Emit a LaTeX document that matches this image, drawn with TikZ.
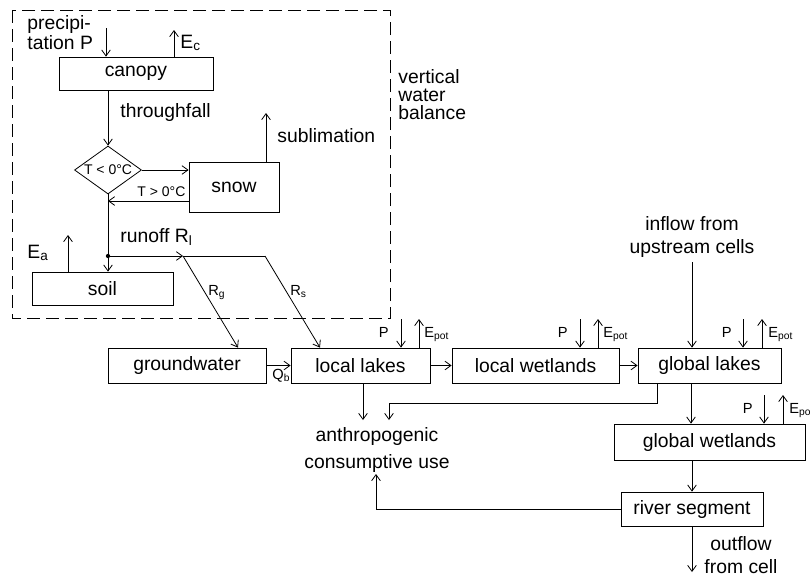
\documentclass[tikz,border=0pt]{standalone}
\usepackage{fontspec}
\setmainfont{Liberation Sans}
\usetikzlibrary{arrows.meta,shapes.geometric}

\tikzset{
  box/.style={draw, inner sep=0pt, font=\fontsize{14.5}{16}\selectfont},
  lbl/.style={inner sep=0pt, font=\fontsize{14.5}{15}\selectfont},
  sml/.style={inner sep=0pt, font=\fontsize{11}{12}\selectfont},
  flow/.style={-{Straight Barb[length=4.5pt,width=6.5pt]}},
}

\begin{document}
\begin{tikzpicture}[x=0.75pt,y=-0.75pt,line width=0.6pt]
\useasboundingbox (0,0) rectangle (810,576);
% vertical water balance
\draw[dash pattern=on 9.75pt off 4.5pt] (12,10) rectangle (390,318);
\node[box, minimum width=115.5pt, minimum height=24.75pt] (canopy) at (136,73.5) {canopy};
\node[box, diamond, aspect=1.4, minimum width=50.25pt, minimum height=36pt, font=\fontsize{10.5}{11}\selectfont] (frost) at (108,170) {T < 0°C};
\node[box, minimum width=67.5pt, minimum height=37.5pt] (snow) at (234,187) {snow};
\node[box, minimum width=105.75pt, minimum height=24.75pt] (soil) at (102.5,288.5) {soil};
\node[lbl, anchor=west, align=left] (precip) at (27,33) {precipi-\\tation P};
\node[lbl, anchor=base west] (eclbl) at (180,48) {E\textsubscript{c}};
\node[lbl, anchor=base west] (thrlbl) at (120,117) {throughfall};
\node[lbl, anchor=base west] (sublbl) at (277,142) {sublimation};
\node[sml, anchor=base west, font=\fontsize{10.5}{11}\selectfont] (meltlbl) at (137,196) {T > 0°C};
\node[lbl, anchor=base west] (runlbl) at (120,242) {runoff R\textsubscript{l}};
\node[lbl, anchor=base west] (ealbl) at (27,258) {E\textsubscript{a}};
\node[lbl, anchor=west, align=left, font=\fontsize{14.5}{13.5}\selectfont] (vwb) at (398,95) {vertical\\water\\balance};
\coordinate (pin) at (106,28);
\coordinate (ecout) at (174,30);
\coordinate (subl) at (266,113);
\coordinate (eaout) at (68,235);
\coordinate (dot) at (108,256);
\coordinate (branch) at (183,256);
\coordinate (bend) at (265,256);
\draw[flow] (pin) -- (pin |- canopy.north);
\draw[flow] (ecout |- canopy.north) -- (ecout);
\draw[flow] (frost.north |- canopy.south) -- (frost.north);
\draw[flow] (frost.east) -- (frost.east -| snow.west);
\draw[flow] (subl |- snow.north) -- (subl);
\draw[flow] ([yshift=-10.5pt]snow.west) coordinate (melt) -- (melt -| frost.south);
\draw (frost.south) -- (dot);
\fill (dot) circle (1.6pt);
\draw[flow] (dot) -- (dot |- soil.north);
\draw[flow] (eaout |- soil.north) -- (eaout);
\draw[flow] (dot) -- (branch);
\draw (branch) -- (bend);
% lateral water balance
\node[box, minimum width=118.5pt, minimum height=26.25pt] (gw) at (187,365.5) {groundwater};
\node[box, minimum width=104.25pt, minimum height=26.25pt] (loclake) at (360.5,365.5) {local lakes};
\node[box, minimum width=125.25pt, minimum height=26.25pt] (locwet) at (535.5,365.5) {local wetlands};
\node[box, minimum width=107.25pt, minimum height=26.25pt] (globlake) at (709.5,365.5) {global lakes};
\node[box, minimum width=143.25pt, minimum height=27pt] (globwet) at (709.5,442) {global wetlands};
\node[box, minimum width=106.5pt, minimum height=25.5pt] (river) at (692,509) {river segment};
\node[lbl, align=center, font=\fontsize{14.5}{17}\selectfont] (inflow) at (692,237) {inflow from\\upstream cells};
\node[lbl, align=center, font=\fontsize{14.5}{20}\selectfont] (anthro) at (377,450) {anthropogenic\\consumptive use};
\node[lbl, align=center, font=\fontsize{14.5}{17}\selectfont] (outflow) at (741,555) {outflow\\from cell};
\node[sml, anchor=base west] (rglbl) at (208,295) {R\textsubscript{g}};
\node[sml, anchor=base west] (rslbl) at (290,295) {R\textsubscript{s}};
\node[sml, anchor=base west] (qblbl) at (272,379) {Q\textsubscript{b}};
\draw[flow] (branch) -- (gw.north -| 238,0);
\draw[flow] (bend) -- (loclake.north -| 320,0);
\draw[flow] (gw) -- (loclake);
\draw[flow] (loclake) -- (locwet);
\draw[flow] (locwet) -- (globlake);
% precipitation and evaporation on open water
\coordinate (p1) at (401,319);
\coordinate (e1) at (419,319);
\coordinate (p2) at (580,319);
\coordinate (e2) at (598,319);
\coordinate (p3) at (743,319);
\coordinate (e3) at (762,319);
\coordinate (p4) at (764,395);
\coordinate (e4) at (783,395);
\draw[flow] (p1) -- (p1 |- loclake.north);
\draw[flow] (e1 |- loclake.north) -- (e1);
\draw[flow] (p2) -- (p2 |- locwet.north);
\draw[flow] (e2 |- locwet.north) -- (e2);
\draw[flow] (p3) -- (p3 |- globlake.north);
\draw[flow] (e3 |- globlake.north) -- (e3);
\draw[flow] (p4) -- (p4 |- globwet.north);
\draw[flow] (e4 |- globwet.north) -- (e4);
\node[sml, anchor=base east] (p1lbl) at (389,337) {P};
\node[sml, anchor=base west] (e1lbl) at (424,337) {E\textsubscript{pot}};
\node[sml, anchor=base east] (p2lbl) at (568,337) {P};
\node[sml, anchor=base west] (e2lbl) at (603,337) {E\textsubscript{pot}};
\node[sml, anchor=base east] (p3lbl) at (732,337) {P};
\node[sml, anchor=base west] (e3lbl) at (768,337) {E\textsubscript{pot}};
\node[sml, anchor=base east] (p4lbl) at (753,413) {P};
\node[sml, anchor=base west] (e4lbl) at (789,413) {E\textsubscript{pot}};
% routing and water use
\coordinate (use1) at (363,420);
\coordinate (use2) at (389,420);
\coordinate (use3) at (376,474);
\coordinate (upin) at (692,262);
\coordinate (outend) at (692,572);
\draw[flow] (upin) -- (upin |- globlake.north);
\draw[flow] (use1 |- loclake.south) -- (use1);
\draw[flow] (globlake.south -| 657,0) |- (use2 |- 0,403) -- (use2);
\draw[flow] (globlake.south -| 691,0) -- (globwet.north -| 691,0);
\draw[flow] (globwet.south -| river.north) -- (river.north);
\draw[flow] (river.west) -| (use3);
\draw[flow] (river.south) -- (outend);
\end{tikzpicture}
\end{document}
